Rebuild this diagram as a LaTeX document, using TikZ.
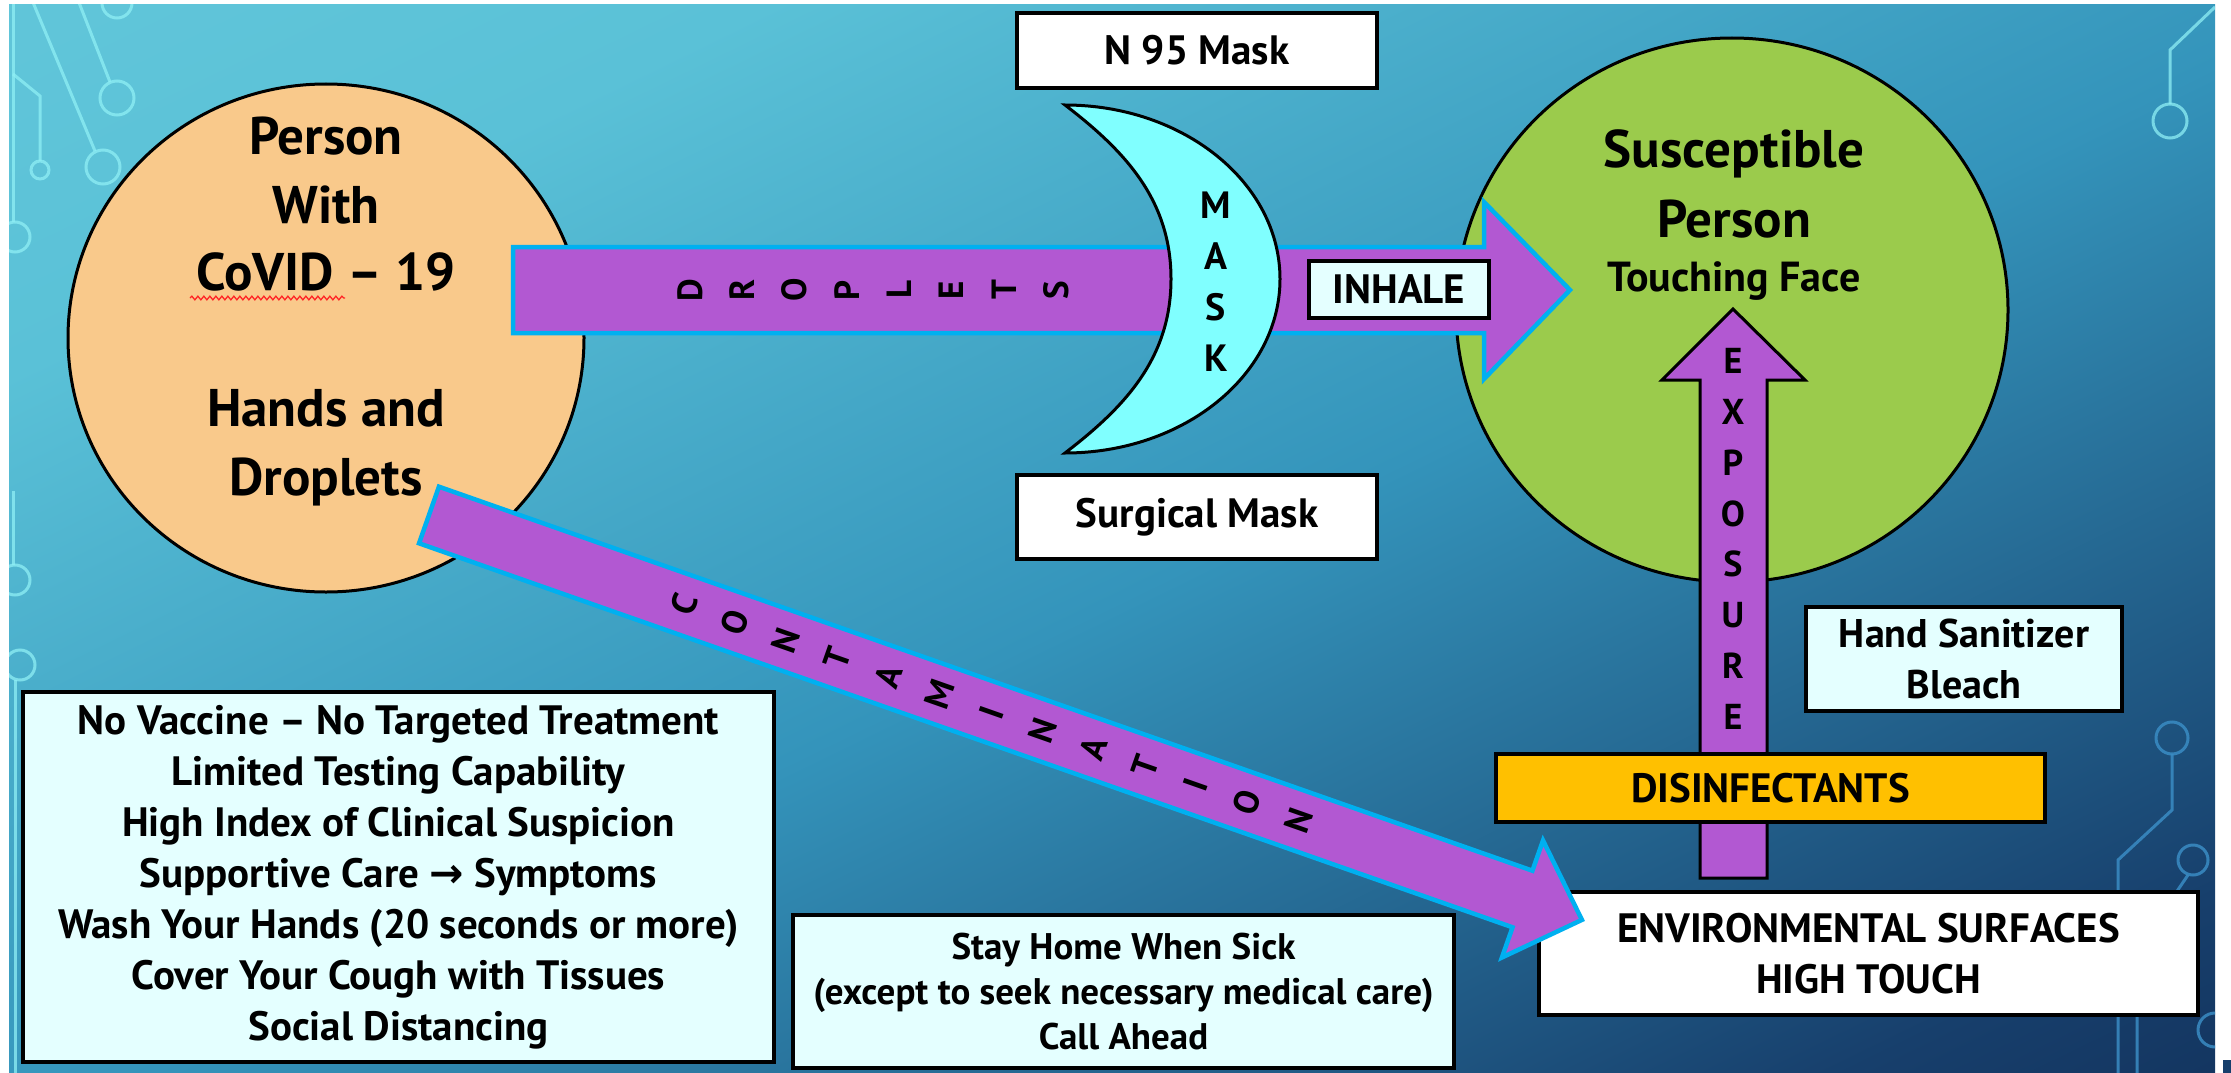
\documentclass[tikz,border=0pt]{standalone}
\usepackage{fontspec}
\setmainfont{PT Sans}
\newfontfamily\symfont{DejaVu Sans}
\usetikzlibrary{shapes.geometric,decorations.pathmorphing}
\definecolor{bgA}{HTML}{0A1B40}
\definecolor{bgB}{HTML}{173F6C}
\definecolor{bgC}{HTML}{3494BB}
\definecolor{bgD}{HTML}{5AC1D7}
\definecolor{bgE}{HTML}{6ACCDD}
\definecolor{orangefill}{HTML}{F9C98B}
\definecolor{greenfill}{HTML}{9BCB4C}
\definecolor{purplefill}{HTML}{B258D2}
\definecolor{cyanborder}{HTML}{00B0F0}
\definecolor{maskfill}{HTML}{80FFFF}
\definecolor{lightbox}{HTML}{E4FFFF}
\definecolor{goldfill}{HTML}{FFC000}
\definecolor{decorA}{HTML}{8FEFF5}
\definecolor{decorB}{HTML}{3A8CC4}
\pgfdeclareverticalshading{bgsh}{100bp}{color(0bp)=(bgA); color(22bp)=(bgB); color(48bp)=(bgC); color(72bp)=(bgD); color(100bp)=(bgE)}
\newcommand{\myfs}[2]{\fontsize{#1}{#2}\selectfont\bfseries}
\begin{document}
\begin{tikzpicture}[x=1pt,y=-1pt,
  box/.style={rectangle, draw=black, line width=3.5, inner sep=0, align=center},
  lt/.style={inner sep=0, font=\myfs{35}{35}},
  ltb/.style={inner sep=0, font=\myfs{38}{38}},
  big/.style={inner sep=0, anchor=base, font=\myfs{53}{53}},
  parrow/.style={fill=purplefill, draw=cyanborder, line width=4.5, line join=miter},
  decA/.style={draw=decorA, line width=3, opacity=0.75},
  decB/.style={draw=decorB, line width=3, opacity=0.85}]
\useasboundingbox (0,0) rectangle (2231,1073);
\fill[white] (0,0) rectangle (2231,1073);
\shade[shading=bgsh, shading angle=26] (9,5) rectangle (2215,1073);
\fill[bgB] (2223,1060) rectangle (2231,1073);
% circuit decoration
\begin{scope}
\clip (9,5) rectangle (2215,1073);
\draw[decA] (13,0) -- (13,222);
\draw[decA] (15,237) circle[radius=15];
\draw[decA] (13,74) -- (40,96) -- (40,161);
\draw[decA] (40,170) circle[radius=9];
\draw[decA] (32,0) -- (95,151);
\draw[decA] (103,167) circle[radius=17];
\draw[decA] (78,0) -- (110,82);
\draw[decA] (117,98) circle[radius=17];
\draw[decA] (117,3) circle[radius=15];
\draw[decA] (13,491) -- (13,565);
\draw[decA] (15,580) circle[radius=15];
\draw[decA] (20,665) circle[radius=15];
\draw[decA] (15,680) -- (15,1073);
\draw[decA] (2215,7) -- (2170,50) -- (2170,104);
\draw[decA] (2170,121) circle[radius=17];
\draw[decB] (2172,738) circle[radius=16];
\draw[decB] (2172,754) -- (2172,810) -- (2118,860) -- (2118,1073);
\draw[decB] (2193,860) circle[radius=15];
\draw[decB] (2188,875) -- (2137,950) -- (2137,1073);
\draw[decB] (2215,1030) circle[radius=17];
\end{scope}
% ellipses
\node[ellipse, draw=black, line width=3, fill=orangefill, minimum width=516, minimum height=508, inner sep=0] (inf) at (326,338) {};
\node[ellipse, draw=black, line width=3, fill=greenfill, minimum width=552, minimum height=544, inner sep=0] (sus) at (1732,310) {};
% droplets arrow
\draw[parrow] (513,247) -- (1484,247) -- (1484,202) -- (1570,290) -- (1484,379) -- (1484,333) -- (513,333) -- cycle;
\foreach \ch [count=\k from 0] in {D,R,O,P,L,E,T,S}
  \node[lt, rotate=90] (d\k) at ({690+52.3*\k},290) {\ch};
% mask crescent
\draw[fill=maskfill, line width=3, line join=miter] (1065,105) .. controls (1183.7,105) and (1280,182.9) .. (1280,279)
  .. controls (1280,375.1) and (1183.7,453) .. (1065,453)
  .. controls (1125,407) and (1171,358) .. (1171,279)
  .. controls (1171,200) and (1125,151) .. (1065,105) -- cycle;
\foreach \ch [count=\k from 0] in {M,A,S,K}
  \node[ltb] (m\k) at (1216,{205+51*\k}) {\ch};
\node[box, fill=lightbox, minimum width=180, minimum height=57, font=\myfs{41}{41}] (inhale) at (1399,289.5) {INHALE};
\node[box, fill=white, minimum width=360, minimum height=75, font=\myfs{41}{41}] (n95) at (1197,50.5) {N 95 Mask};
\node[box, fill=white, minimum width=360, minimum height=84, font=\myfs{41}{41}] (surg) at (1197,517) {Surgical Mask};
% ellipse texts
\node[big] (t1) at (326,154) {Person};
\node[big] (t2) at (326,223) {With};
\node[big] (t3) at (326,290) {CoVID – 19};
\node[big] (t4) at (326,426) {Hands and};
\node[big] (t5) at (326,495) {Droplets};
\draw[red!85!white, line width=1.3, decorate, decoration={snake, amplitude=1.8, segment length=6}] (190,298) -- (345,298);
\node[big] (s1) at (1734,167) {Susceptible};
\node[big] (s2) at (1734,237) {Person};
\node[big, font=\myfs{42}{42}] (s3) at (1734,291) {Touching Face};
% exposure arrow
\draw[fill=purplefill, draw=black, line width=3, line join=miter] (1700,878) -- (1700,380) -- (1662,380) -- (1733,309) -- (1805,380) -- (1767,380) -- (1767,878) -- cycle;
\foreach \ch [count=\k from 0] in {E,X,P,O,S,U,R,E}
  \node[ltb, font=\myfs{36}{36}] (e\k) at (1733,{361+50.8*\k}) {\ch};
% boxes
\node[box, fill=lightbox, minimum width=316, minimum height=104, font=\myfs{40}{51}] (hand) at (1964,659) {Hand Sanitizer\\Bleach};
\node[box, fill=goldfill, minimum width=549, minimum height=68, font=\myfs{41}{41}] (dis) at (1770.5,788) {DISINFECTANTS};
\node[box, fill=white, minimum width=659, minimum height=123, font=\myfs{41}{51}] (env) at (1868.5,953.5) {ENVIRONMENTAL SURFACES\\HIGH TOUCH};
% contamination arrow
\begin{scope}[shift={(429,515)}, rotate=-19.35]
\draw[parrow] (0,-30) -- (1159,-30) -- (1159,-62) -- (1222,0) -- (1159,62) -- (1159,30) -- (0,30) -- cycle;
\foreach \ch [count=\k from 0] in {C,O,N,T,A,M,I,N,A,T,I,O,N}
  \node[lt, rotate=70.65] (c\k) at ({270+54.3*\k},0) {\ch};
\end{scope}
\node[box, fill=lightbox, minimum width=751, minimum height=370, font=\myfs{41}{51}] (facts) at (398.5,877) {No Vaccine – No Targeted Treatment\\Limited Testing Capability\\High Index of Clinical Suspicion\\Supportive Care {\symfont\bfseries →} Symptoms\\Wash Your Hands (20 seconds or more)\\Cover Your Cough with Tissues\\Social Distancing};
\node[box, fill=lightbox, minimum width=661, minimum height=153, font=\myfs{37}{45}] (stay) at (1123.5,991.5) {Stay Home When Sick\\(except to seek necessary medical care)\\Call Ahead};
\end{tikzpicture}
\end{document}
